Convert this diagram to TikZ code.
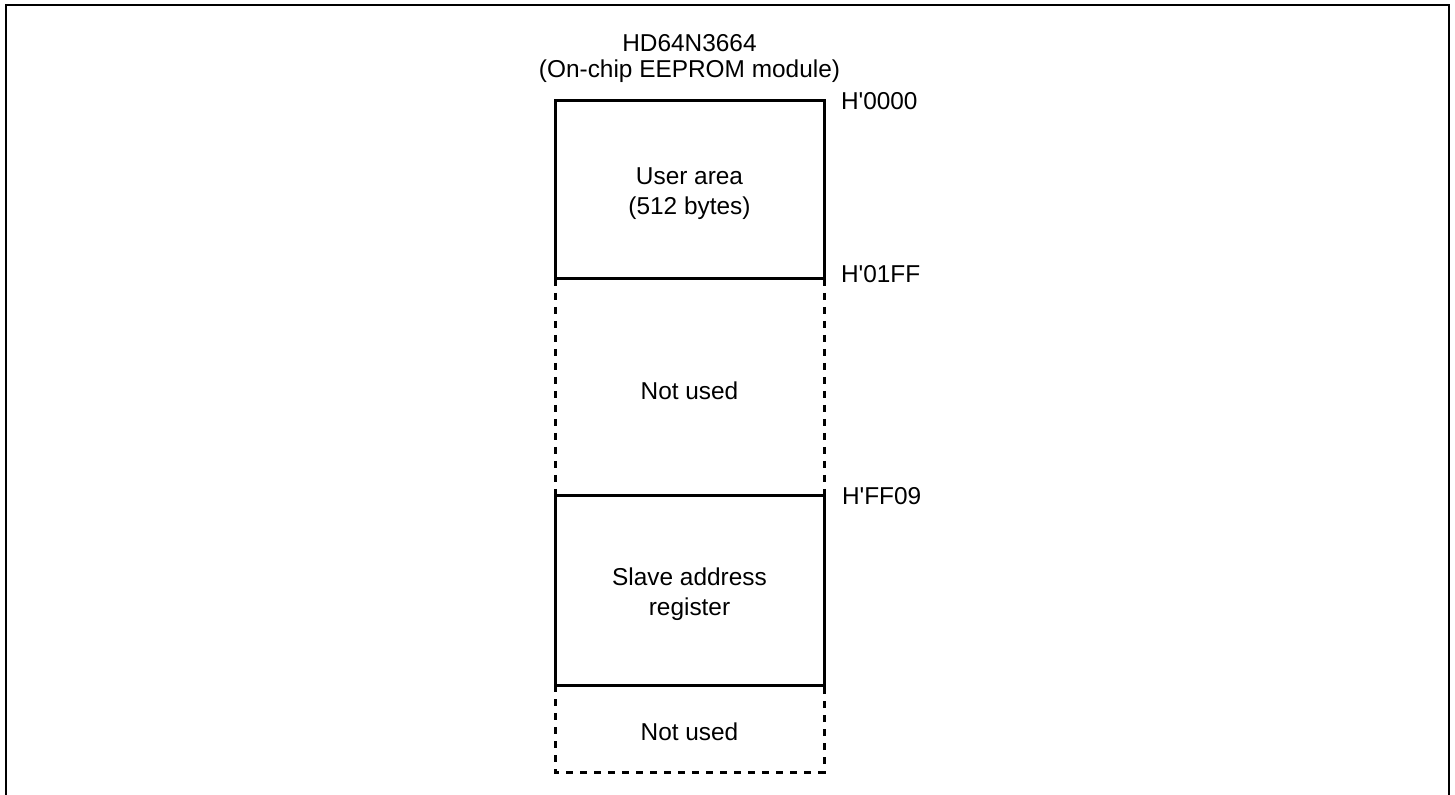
\documentclass[tikz,border=0pt]{standalone}
\usepackage{fontspec}
\setmainfont{Liberation Sans}
\usepackage{tikz}
\usetikzlibrary{positioning}

\begin{document}
\begin{tikzpicture}[x=0.5pt, y=-0.5pt,
                every node/.style={align=center, inner sep=0pt, outer sep=0pt, font=\fontsize{12.2}{15}\selectfont}, % Text in boxes
                membox/.style={rectangle, minimum width=134.5pt}, % Memory area
                solidbox/.style={membox, draw, line width=1.5pt}, % Used area
                dashline/.style={line width=1.5pt, dash pattern=on 3.5pt off 3.5pt}, % Unused area sides
                addr/.style={anchor=west} % Address labels
                ]
                \useasboundingbox (0,0) rectangle (1455,795);
                \draw[line width=1pt] (6,795) -- (6,5) -- (1449,5) -- (1449,795);
                % memory map
                \node[solidbox, minimum height=89pt] (user) at (689.5,190) {};
                \node[membox, minimum height=108.5pt, below=0pt of user] (unused1) {};
                \node[solidbox, minimum height=94.5pt, below=0pt of unused1] (slave) {};
                \node[membox, minimum height=43.5pt, below=0pt of slave] (unused2) {};
                \draw[dashline] (unused1.north west) -- (unused1.south west);
                \draw[dashline] (unused1.north east) -- (unused1.south east);
                \draw[dashline] (unused2.north west) |- (unused2.south east) -- (unused2.north east);
                % texts in the areas
                \node[below=2pt of user.center, anchor=center] (usertxt) {User area\\(512 bytes)};
                \node[below=1.8pt of unused1.center, anchor=center] (unused1txt) {Not used};
                \node[below=2pt of slave.center, anchor=center] (slavetxt) {Slave address\\register};
                \node[below=1.5pt of unused2.center, anchor=center] (unused2txt) {Not used};
                % title and addresses
                \node[font=\fontsize{12.2}{13}\selectfont, above=9pt of user] (chip) {HD64N3664\\(On-chip EEPROM module)};
                \node[addr, right=8.5pt of user.north east] (a0000) {H\textquotesingle 0000};
                \node[addr, right=8.5pt of user.south east, yshift=2.5pt] (a01ff) {H\textquotesingle 01FF};
                \node[addr, right=9pt of slave.north east] (aff09) {H\textquotesingle FF09};
            \end{tikzpicture}
\end{document}
